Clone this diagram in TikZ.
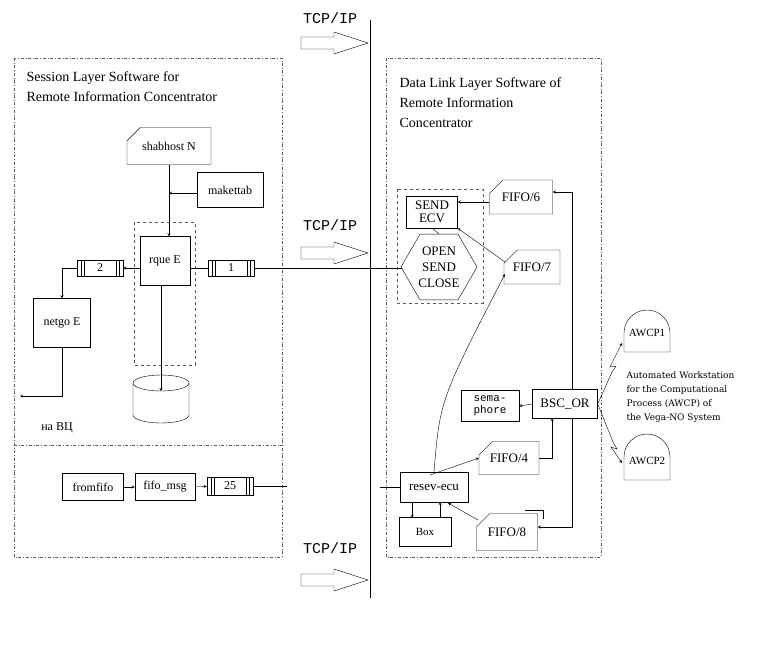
\documentclass[tikz,border=0pt]{standalone}
\usepackage{fontspec}
\setmainfont{Liberation Serif}
\setmonofont{Liberation Mono}
\newfontfamily\notefont{DejaVu Serif}
\usetikzlibrary{shapes.geometric}
\usetikzlibrary{shapes.misc}
\tikzstyle{proc}=[draw, inner sep=1pt, font=\fontsize{12}{13}\selectfont]
\tikzstyle{file}=[proc, chamfered rectangle, chamfered rectangle corners=north west, chamfered rectangle xsep=8pt, chamfered rectangle ysep=8pt]
\tikzstyle{queue}=[draw, minimum width=46pt, minimum height=16pt, inner sep=0pt, font=\fontsize{12}{13}\selectfont,
  path picture={\foreach \d in {4,7} {
    \draw ([xshift=\d pt]path picture bounding box.north west) -- ([xshift=\d pt]path picture bounding box.south west);
    \draw ([xshift=-\d pt]path picture bounding box.north east) -- ([xshift=-\d pt]path picture bounding box.south east);}}]
\tikzstyle{frame}=[gray!70!black, dash dot]
\tikzstyle{inner}=[gray!70!black, dashed]
\tikzstyle{netlabel}=[font=\ttfamily\fontsize{15}{16}\selectfont]
\tikzstyle{flow}=[->, >=stealth]

\begin{document}
\begin{tikzpicture}[x=1pt, y=-1pt]
    \useasboundingbox (0,0) rectangle (773,648);
    % network
    \draw (370,20) -- (370,598);
    \node[netlabel] (tcp1) at (330,18) {TCP/IP};
    \node[netlabel] (tcp2) at (330,225) {TCP/IP};
    \node[netlabel] (tcp3) at (330,548) {TCP/IP};
    \foreach \y in {43,253,580}
        \draw (301,\y-6) -- (334,\y-6) -- (334,\y-11) -- (368,\y) -- (334,\y+11) -- (334,\y+6) -- (301,\y+6) -- cycle;
    % frames
    \draw[frame] (14,58) rectangle (282,557);
    \draw[frame] (14,445) -- (282,445);
    \draw[frame] (386,58) rectangle (601,557);
    \draw[inner] (134,222) rectangle (195,365);
    \draw[inner] (397,189) rectangle (483,303);
    \node[align=left, anchor=north west, font=\fontsize{14}{20}\selectfont] (lt) at (23,68) {Session Layer Software for\\Remote Information Concentrator};
    \node[align=left, anchor=north west, font=\fontsize{14}{20}\selectfont] (rt) at (396,74) {Data Link Layer Software of\\Remote Information\\Concentrator};
    % session layer
    \node[file, minimum width=84pt, minimum height=37pt] (shab) at (169,146) {shabhost N};
    \node[proc, minimum width=66pt, minimum height=35pt] (make) at (230,190) {makettab};
    \node[proc, minimum width=50pt, minimum height=49pt] (rque) at (165,261) {rque E};
    \node[queue] (q1) at (231,268) {1};
    \node[queue] (q2) at (100,268) {2};
    \node[proc, minimum width=57pt, minimum height=49pt] (netgo) at (62,323) {netgo E};
    \draw (133,383) -- (133,415) arc[start angle=180, end angle=0, x radius=28, y radius=8] -- (189,383);
    \draw (161,383) ellipse [x radius=28, y radius=8];
    \coordinate (db) at (161,391);
    \coordinate (vc) at (20,396);
    \node[font=\fontsize{12}{13}\selectfont] (navc) at (57,428) {на ВЦ};
    \coordinate (j1) at (169,193);
    \draw (shab.south -| j1) -- (j1);
    \draw[flow] (j1) -- (j1 |- rque.north);
    \draw[flow] (make.west |- j1) -- (j1);
    \draw (rque.east |- q1) -- (q1.west);
    \draw (q1.east) -- (402,268);
    \draw[flow] (rque.west |- q2) -- (q2.east);
    \draw[flow] (q2.west) -| (netgo.north);
    \draw[flow] (netgo.south) |- (vc);
    \draw[flow] (rque.south -| db) -- (db);
    \node[proc, minimum width=61pt, minimum height=27pt] (from) at (93,487) {fromfifo};
    \node[proc, minimum width=60pt, minimum height=27pt] (fmsg) at (165,487) {fifo\_msg};
    \node[queue, minimum height=18pt] (q25) at (230,486) {25};
    \draw[flow] (from) -- (fmsg);
    \draw[flow] (fmsg) -- (q25);
    \draw (q25.east) -- (287,486);
    % data link layer
    \node[proc, align=center, minimum width=51pt, minimum height=32pt, font=\fontsize{13}{13}\selectfont] (send) at (432,212) {SEND\\ECV};
    \node[draw, regular polygon, regular polygon sides=6, minimum size=76pt, inner sep=0pt, align=center, font=\fontsize{13}{16}\selectfont] (open) at (439,267) {OPEN\\SEND\\CLOSE};
    \node[file, minimum width=63pt, minimum height=34pt, font=\fontsize{13}{13}\selectfont] (f6) at (521,197) {FIFO/6};
    \node[file, minimum width=56pt, minimum height=34pt, font=\fontsize{13}{13}\selectfont] (f7) at (532,267) {FIFO/7};
    \node[proc, minimum width=65pt, minimum height=29pt, font=\fontsize{13}{13}\selectfont] (bsc) at (565,404) {BSC\_OR};
    \node[proc, align=center, minimum width=58pt, minimum height=31pt, font=\ttfamily\fontsize{11}{12}\selectfont] (sema) at (490,406) {sema-\\phore};
    \node[file, minimum width=60pt, minimum height=33pt, font=\fontsize{13}{13}\selectfont] (f4) at (509,458) {FIFO/4};
    \node[proc, minimum width=68pt, minimum height=30pt, font=\fontsize{13}{13}\selectfont] (resev) at (434,487) {resev-ecu};
    \node[proc, minimum width=52pt, minimum height=29pt, font=\fontsize{11}{12}\selectfont] (box) at (425,532) {Box};
    \node[file, minimum width=61pt, minimum height=37pt, font=\fontsize{13}{13}\selectfont] (f8) at (507,532) {FIFO/8};
    \draw (send.south) -- (open.north);
    \draw[flow] (f6.west |- 0,202) -- (send.east |- 0,202);
    \draw[flow] (505,262) -- (send.south east);
    \draw[flow] (resev.north) .. controls (440,400) .. (505,274);
    \draw[flow] (bsc.west) -- (sema.east);
    \draw[flow] (f4.east) -| (552,418);
    \draw[flow] (572,389) |- (f6.east |- 0,192);
    \draw[flow] (572,418) |- (f8.east |- 0,527);
    \draw[flow] (430,475) -- (f4.west);
    \draw[flow] (412,502) -- (412,518);
    \draw[flow] (440,518) -- (440,502);
    \draw[flow] (478,520) -- (448,503);
    \draw (525,510) -- (543,510) -- (543,519);
    \draw (380,487) -- (resev.west);
    % workstations
    \draw (624,352) -- (624,333) arc[start angle=180, end angle=360, radius=23] -- (670,352) -- cycle;
    \node[font=\fontsize{11}{12}\selectfont] (awcp1) at (647,333) {AWCP1};
    \draw (624,480) -- (624,457) arc[start angle=180, end angle=360, radius=23] -- (670,480) -- cycle;
    \node[font=\fontsize{11}{12}\selectfont] (awcp2) at (647,461) {AWCP2};
    \coordinate (w1) at (622,343);
    \coordinate (w2) at (622,463);
    \draw[flow] (bsc.east) -- (612,372) -- (616,366) -- (610,367) -- (w1);
    \draw[flow] (bsc.east) -- (613,442) -- (617,449) -- (611,447) -- (w2);
    \node[align=left, anchor=north west, font=\notefont\fontsize{9}{14}\selectfont] (note) at (623,368) {Automated Workstation\\for the Computational\\Process (AWCP) of\\the Vega-NO System};
\end{tikzpicture}
\end{document}
